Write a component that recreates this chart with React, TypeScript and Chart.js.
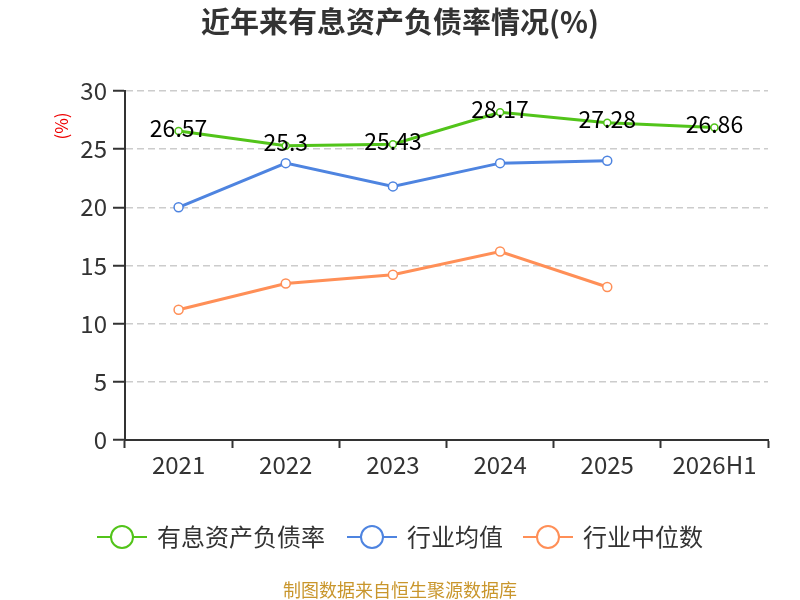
import { useEffect, useRef } from "react";
import { Chart, registerables } from "chart.js";
Chart.register(...registerables);

const categories = ["2021", "2022", "2023", "2024", "2025", "2026H1"];
const debtRatio = [26.57, 25.3, 25.43, 28.17, 27.28, 26.86];
const industryMean = [20.0, 23.8, 21.8, 23.8, 24.0, null];
const industryMedian = [11.2, 13.45, 14.2, 16.2, 13.15, null];
const seriesNames = ["有息资产负债率", "行业均值", "行业中位数"];
const colors = ["#52c41a", "#4e84e0", "#ff8f57"];

const FONT = "'Noto Sans CJK SC', 'Noto Sans', sans-serif";

const decorations = {
  id: "decorations",
  afterDraw(chart: any) {
    const { ctx } = chart;
    ctx.save();
    // title
    ctx.fillStyle = "#333";
    ctx.font = `bold 29px ${FONT}`;
    ctx.textAlign = "center";
    ctx.textBaseline = "middle";
    ctx.fillText("近年来有息资产负债率情况(%)", 400, 22);

    // unit label
    ctx.save();
    ctx.translate(62, 126);
    ctx.rotate(-Math.PI / 2);
    ctx.fillStyle = "#e00";
    ctx.font = `17px ${FONT}`;
    ctx.fillText("(%)", 0, 0);
    ctx.restore();

    // value labels on the main series
    const meta = chart.getDatasetMeta(0);
    ctx.fillStyle = "#000";
    ctx.font = `23px ${FONT}`;
    meta.data.forEach((pt: any, i: number) => {
      ctx.fillText(String(debtRatio[i]), pt.x, pt.y - 3);
    });

    // legend
    const items = [
      { x: 97, label: seriesNames[0], color: colors[0] },
      { x: 347, label: seriesNames[1], color: colors[1] },
      { x: 523, label: seriesNames[2], color: colors[2] },
    ];
    const ly = 537;
    items.forEach((it) => {
      ctx.strokeStyle = it.color;
      ctx.lineWidth = 2;
      ctx.beginPath();
      ctx.moveTo(it.x, ly);
      ctx.lineTo(it.x + 50, ly);
      ctx.stroke();
      ctx.beginPath();
      ctx.arc(it.x + 25, ly, 11, 0, Math.PI * 2);
      ctx.fillStyle = "#fff";
      ctx.fill();
      ctx.stroke();
      ctx.fillStyle = "#333";
      ctx.font = `24px ${FONT}`;
      ctx.textAlign = "left";
      ctx.fillText(it.label, it.x + 60, ly);
    });

    // source
    ctx.textAlign = "center";
    ctx.fillStyle = "#c9962c";
    ctx.font = `18px ${FONT}`;
    ctx.fillText("制图数据来自恒生聚源数据库", 400, 590);
    ctx.restore();
  },
};

export default function App() {
  const canvasRef = useRef<HTMLCanvasElement | null>(null);

  useEffect(() => {
    document.body.style.margin = "0";
    if (!canvasRef.current) return;
    const ctx = canvasRef.current.getContext("2d");
    if (!ctx) return;

    const makeSet = (label: string, data: (number | null)[], color: string, r: number) => ({
      label,
      data,
      borderColor: color,
      backgroundColor: "#fff",
      pointBackgroundColor: "#fff",
      pointBorderColor: color,
      pointBorderWidth: 1.5,
      pointRadius: r,
      borderWidth: 3,
      tension: 0,
    });

    const chart = new Chart(ctx, {
      type: "line",
      data: {
        labels: categories,
        datasets: [
          makeSet(seriesNames[0], debtRatio, colors[0], 3.5),
          makeSet(seriesNames[1], industryMean, colors[1], 4.5),
          makeSet(seriesNames[2], industryMedian, colors[2], 4.5),
        ],
      },
      options: {
        responsive: false,
        animation: false,
        layout: { padding: { left: 0, top: 91, right: 32, bottom: 110 } },
        plugins: { legend: { display: false }, tooltip: { enabled: false } },
        scales: {
          x: {
            offset: true,
            grid: { offset: true, drawOnChartArea: false, tickLength: 8, tickColor: "#333", tickWidth: 2 },
            border: { color: "#333", width: 2 },
            ticks: { color: "#333", font: { size: 24, family: FONT }, padding: 2 },
            afterFit: (s: any) => { s.height = 50; },
          },
          y: {
            min: 0,
            max: 30,
            ticks: { stepSize: 5, color: "#333", font: { size: 24, family: FONT }, padding: 6 },
            grid: { color: "#ccc", lineWidth: 1.5, tickLength: 12, tickColor: "#333", tickWidth: 2, tickBorderDash: [] },
            border: { color: "#333", width: 2, dash: [7, 4] },
            afterFit: (s: any) => { s.width = 125; },
          },
        },
      },
      plugins: [decorations],
    });

    return () => chart.destroy();
  }, []);

  return <canvas ref={canvasRef} width={800} height={600} style={{ display: "block" }} />;
}
